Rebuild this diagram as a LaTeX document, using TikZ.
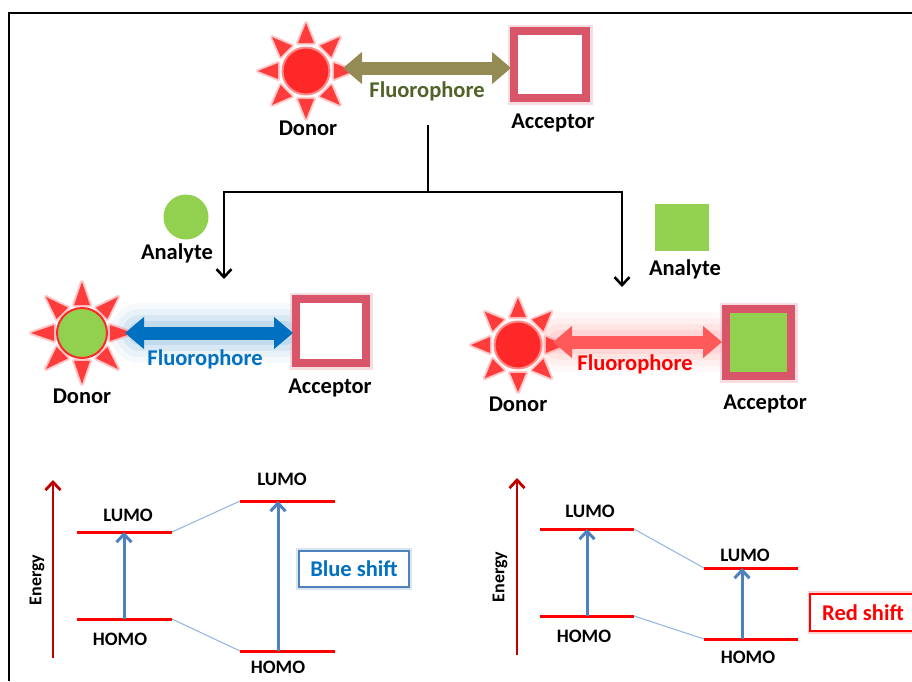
\documentclass[tikz,border=0pt]{standalone}
\usepackage{fontspec}
\setmainfont{Carlito}
\usetikzlibrary{arrows.meta}
\definecolor{olivearr}{RGB}{148,138,84}
\definecolor{olivetxt}{RGB}{79,98,40}
\definecolor{acccol}{RGB}{217,85,105}
\definecolor{sunred}{RGB}{255,40,40}
\definecolor{rayred}{RGB}{255,60,60}
\definecolor{anagreen}{RGB}{146,208,80}
\definecolor{bluearr}{RGB}{0,112,192}
\definecolor{redarr}{RGB}{255,90,90}
\definecolor{levelred}{RGB}{255,0,0}
\definecolor{darkred}{RGB}{192,0,0}
\definecolor{stepblue}{RGB}{79,129,189}
\definecolor{linkblue}{RGB}{141,180,226}
\tikzset{
  pics/sunrays/.style={code={
    \foreach \a in {0,45,...,315}{
      \draw[rayred!50, line width=4pt, line join=round, opacity=0.55] (\a:#1) -- (\a+16:29) -- (\a-16:29) -- cycle;
      \fill[rayred] (\a:#1) -- (\a+16:29) -- (\a-16:29) -- cycle;
    }}},
  lbl/.style={font=\fontsize{22.5}{26}\selectfont\bfseries, anchor=base, inner sep=0pt},
  elbl/.style={font=\fontsize{19}{22}\selectfont\bfseries, anchor=base, inner sep=0pt},
  donorc/.style={circle, fill=sunred, draw=rayred!60, line width=2pt, inner sep=0pt},
  accbox/.style={draw=acccol, line width=8pt, fill=white, inner sep=0pt},
  dbl/.style={line width=13pt, {Triangle[length=19pt,width=31pt]}-{Triangle[length=19pt,width=31pt]}},
  conn/.style={draw=black, line width=2.2pt, -{Straight Barb[length=8pt,width=15pt,line width=2.6pt]}},
  level/.style={draw=levelred, line width=3pt},
  trans/.style={draw=stepblue, line width=3pt, -{Straight Barb[length=8pt,width=15pt,line width=3pt]}},
  linkl/.style={draw=linkblue, line width=1pt},
  energy/.style={draw=darkred, line width=2.6pt, -{Straight Barb[length=8pt,width=15pt,line width=2.8pt]}},
}
\begin{document}
\begin{tikzpicture}[x=1pt,y=-1pt]
\useasboundingbox (0,0) rectangle (912,681);
\clip (0,0) rectangle (912,681);
\fill[white] (0,0) rectangle (912,681);
% frame
\draw[line width=2pt] (9,681) -- (9,13) -- (912,13);

% ---------- top ----------
\pic at (306,71) {sunrays=48};
\node[donorc, minimum size=47pt] (d1) at (306,71) {};
\node[lbl] (d1l) at (308,135) {Donor};
\draw[acccol!40, line width=13pt, opacity=0.5] (514,31) rectangle (586,98);
\node[accbox, minimum width=72pt, minimum height=67pt] (a1) at (550,64.5) {};
\node[lbl] (a1l) at (553,128) {Acceptor};
\coordinate (f1a) at (343,68);
\coordinate (f1b) at (511,68);
\draw[dbl, olivearr] (f1a) -- (f1b);
\node[lbl, text=olivetxt] (f1l) at (427,97) {Fluorophore};

% split connector
\coordinate (stem) at (428,125);
\coordinate (split) at (428,192);
\coordinate (aL) at (224,279);
\coordinate (aR) at (622,287);
\draw[line width=2.2pt] (stem) -- (split);
\draw[conn] (split) -| (aL);
\draw[conn] (split) -| (aR);

% analytes
\node[circle, fill=anagreen, minimum size=45pt, inner sep=0pt] (an1) at (186,217) {};
\node[lbl] (an1l) at (177,259) {Analyte};
\node[fill=anagreen, minimum width=54pt, minimum height=47pt, inner sep=0pt] (an2) at (682,227.5) {};
\node[lbl] (an2l) at (685,275) {Analyte};

% ---------- middle left ----------
\foreach \w/\o in {60/0.04,48/0.05,36/0.07,24/0.1}{
  \draw[bluearr, line width=\w pt, opacity=\o, line cap=round] (140,333) -- (285,333);
}
\pic at (82,333) {sunrays=51};
\node[donorc, fill=anagreen, draw=sunred, minimum size=50pt] (d2) at (82,333) {};
\node[lbl] (d2l) at (82,403) {Donor};
\draw[acccol!40, line width=13pt, opacity=0.5] (296,299) rectangle (366,363);
\node[accbox, minimum width=70pt, minimum height=64pt] (a2) at (331,331) {};
\node[lbl] (a2l) at (330,393) {Acceptor};
\coordinate (f2a) at (125,333);
\coordinate (f2b) at (293,333);
\draw[dbl, bluearr] (f2a) -- (f2b);
\node[lbl, text=bluearr] (f2l) at (205,365) {Fluorophore};

% ---------- middle right ----------
\foreach \w/\o in {60/0.04,48/0.05,36/0.07,24/0.1}{
  \draw[redarr, line width=\w pt, opacity=\o, line cap=round] (560,342) -- (715,342);
}
\pic at (518,345) {sunrays=47};
\node[donorc, minimum size=47pt] (d3) at (518,345) {};
\node[lbl] (d3l) at (518,411) {Donor};
\draw[acccol!40, line width=13pt, opacity=0.5] (726,309) rectangle (791,376);
\node[accbox, fill=anagreen, minimum width=65pt, minimum height=67pt] (a3) at (758.5,342.5) {};
\node[lbl] (a3l) at (765,409) {Acceptor};
\coordinate (f3a) at (553,342);
\coordinate (f3b) at (722,342);
\draw[dbl, redarr] (f3a) -- (f3b);
\node[lbl, text=levelred] (f3l) at (635,370) {Fluorophore};

% ---------- bottom left energy diagram ----------
\coordinate (e1a) at (53,658);
\coordinate (e1b) at (53,480);
\draw[energy] (e1a) -- (e1b);
\node[font=\fontsize{18}{21}\selectfont\bfseries, rotate=90, inner sep=0pt] (e1l) at (37,580) {Energy};
\coordinate (L1w) at (77,532);  \coordinate (L1e) at (172,532);
\coordinate (H1w) at (77,619);  \coordinate (H1e) at (172,619);
\coordinate (L2w) at (240,501); \coordinate (L2e) at (335,501);
\coordinate (H2w) at (240,651); \coordinate (H2e) at (335,651);
\draw[linkl] (L1e) -- (L2w);
\draw[linkl] (H1e) -- (H2w);
\draw[level] (L1w) -- (L1e);
\draw[level] (H1w) -- (H1e);
\draw[level] (L2w) -- (L2e);
\draw[level] (H2w) -- (H2e);
\coordinate (t1a) at (124,619); \coordinate (t1b) at (124,532);
\coordinate (t2a) at (278,651); \coordinate (t2b) at (278,501);
\draw[trans] (t1a) -- (t1b);
\draw[trans] (t2a) -- (t2b);
\node[elbl] (lu1) at (128,521) {LUMO};
\node[elbl] (ho1) at (120,645) {HOMO};
\node[elbl] (lu2) at (282,485) {LUMO};
\node[elbl] (ho2) at (278,673) {HOMO};
\draw[stepblue!35, line width=8pt, opacity=0.6] (300,552) rectangle (408,586);
\node[draw=stepblue, line width=2.5pt, fill=white, minimum width=110pt, minimum height=36pt, inner sep=0pt,
      font=\fontsize{22.5}{26}\selectfont\bfseries, text=bluearr] (bs) at (354,569) {Blue shift};

% ---------- bottom right energy diagram ----------
\coordinate (e2a) at (517,655);
\coordinate (e2b) at (517,478);
\draw[energy] (e2a) -- (e2b);
\node[font=\fontsize{18}{21}\selectfont\bfseries, rotate=90, inner sep=0pt] (e2l) at (500,577) {Energy};
\coordinate (L3w) at (540,529); \coordinate (L3e) at (634,529);
\coordinate (H3w) at (540,616); \coordinate (H3e) at (634,616);
\coordinate (L4w) at (704,568); \coordinate (L4e) at (798,568);
\coordinate (H4w) at (704,639); \coordinate (H4e) at (798,639);
\draw[linkl] (L3e) -- (L4w);
\draw[linkl] (H3e) -- (H4w);
\draw[level] (L3w) -- (L3e);
\draw[level] (H3w) -- (H3e);
\draw[level] (L4w) -- (L4e);
\draw[level] (H4w) -- (H4e);
\coordinate (t3a) at (587,616); \coordinate (t3b) at (587,529);
\coordinate (t4a) at (742,639); \coordinate (t4b) at (742,568);
\draw[trans] (t3a) -- (t3b);
\draw[trans] (t4a) -- (t4b);
\node[elbl] (lu3) at (590,517) {LUMO};
\node[elbl] (ho3) at (584,642) {HOMO};
\node[elbl] (lu4) at (745,561) {LUMO};
\node[elbl] (ho4) at (748,663) {HOMO};
\draw[levelred!30, line width=8pt, opacity=0.6] (812,595) rectangle (914,630);
\node[draw=levelred, line width=2.5pt, fill=white, minimum width=106pt, minimum height=37pt, inner sep=0pt,
      font=\fontsize{22.5}{26}\selectfont\bfseries, text=levelred] (rs) at (863,612.5) {Red shift};
\end{tikzpicture}
\end{document}
